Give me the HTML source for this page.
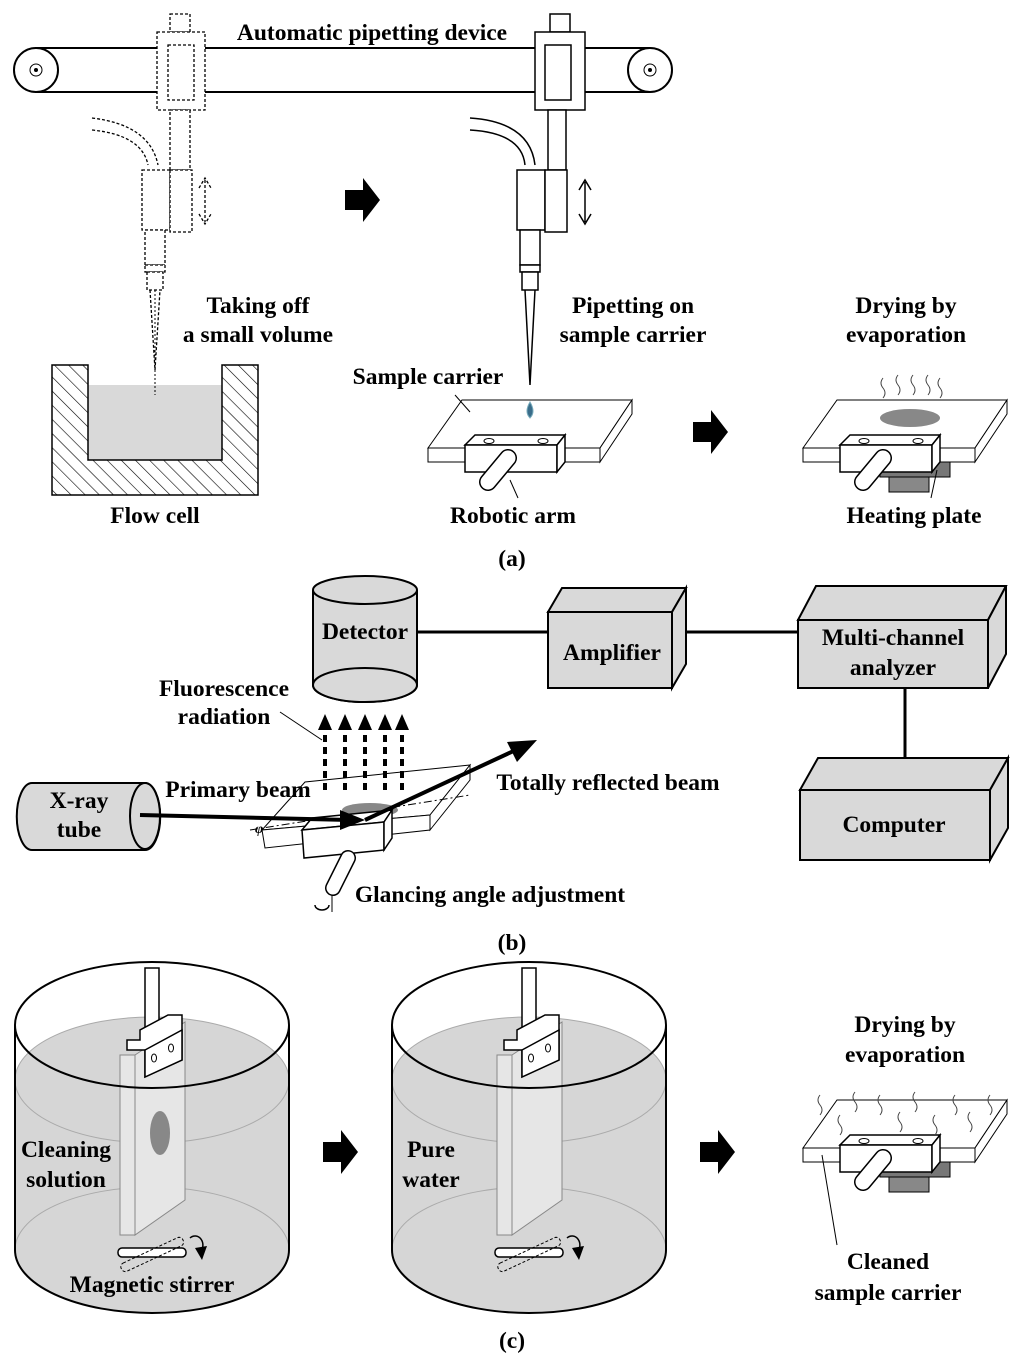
<!DOCTYPE html>
<html><head><meta charset="utf-8"><style>
html,body{margin:0;padding:0;background:#fff}
svg{display:block}
text{font-family:"Liberation Serif",serif;font-weight:bold;font-size:23.5px;fill:#000}
</style></head><body>
<svg width="1024" height="1365" viewBox="0 0 1024 1365" xmlns="http://www.w3.org/2000/svg">
<defs>
<pattern id="hatch" width="10" height="10" patternUnits="userSpaceOnUse" patternTransform="rotate(-45)">
<line x1="0" y1="0" x2="0" y2="10" stroke="#000" stroke-width="1.2"/></pattern>
<g id="carrier">
<polygon points="428,448 462,400 632,400 600,448" fill="#fff" stroke="#000" stroke-width="1"/>
<polygon points="428,448 600,448 600,462 428,462" fill="#fff" stroke="#000" stroke-width="1"/>
<polygon points="600,448 632,400 632,414 600,462" fill="#fff" stroke="#000" stroke-width="1"/>
<polygon points="465,445 475,435 565,435 557,445" fill="#fff" stroke="#000" stroke-width="1.5"/>
<rect x="465" y="445" width="92" height="27" fill="#fff" stroke="#000" stroke-width="1.5"/>
<polygon points="557,445 565,435 565,462 557,472" fill="#fff" stroke="#000" stroke-width="1.5"/>
<ellipse cx="489" cy="441" rx="5" ry="2.5" fill="#fff" stroke="#000"/>
<ellipse cx="543" cy="441" rx="5" ry="2.5" fill="#fff" stroke="#000"/>
<line x1="488" y1="482" x2="508" y2="458" stroke="#000" stroke-width="18" stroke-linecap="round"/>
<line x1="488" y1="482" x2="508" y2="458" stroke="#fff" stroke-width="15" stroke-linecap="round"/>
</g>
<g id="blkarrow"><polygon points="0,12 18,12 18,0 35,22 18,44 18,32 0,32" fill="#000"/></g>
</defs>

<line x1="35" y1="48" x2="650" y2="48" stroke="#000" stroke-width="2"/>
<line x1="35" y1="92" x2="650" y2="92" stroke="#000" stroke-width="2"/>
<circle cx="36" cy="70" r="22" fill="#fff" stroke="#000" stroke-width="2"/>
<circle cx="36" cy="70" r="6" fill="none" stroke="#000"/><circle cx="36" cy="70" r="2"/>
<circle cx="650" cy="70" r="22" fill="#fff" stroke="#000" stroke-width="2"/>
<circle cx="650" cy="70" r="6" fill="none" stroke="#000"/><circle cx="650" cy="70" r="2"/>
<rect x="232" y="18" width="280" height="26" fill="#fff"/>
<text x="372" y="40" text-anchor="middle">Automatic pipetting device</text>

<g fill="#fff" stroke="#000" stroke-dasharray="3,2" stroke-width="1.3">
<rect x="170" y="14" width="20" height="18"/>
<rect x="157" y="32" width="48" height="78"/>
<rect x="168" y="45" width="26" height="55"/>
<rect x="170" y="110" width="20" height="60"/>
<path d="M92,118 Q150,125 158,165" fill="none"/>
<path d="M92,130 Q142,135 148,165" fill="none"/>
<rect x="142" y="170" width="28" height="60"/>
<rect x="170" y="170" width="22" height="62"/>
<rect x="145" y="230" width="20" height="35"/>
<rect x="145" y="265" width="20" height="7"/>
<rect x="147" y="272" width="16" height="18"/>
<path d="M150,290 L155,370 L160,290" fill="none"/>
<path d="M205,180 L205,222 M199,188 L205,178 L211,188 M199,214 L205,224 L211,214" fill="none"/>
</g>

<g fill="#fff" stroke="#000" stroke-width="1.5">
<rect x="550" y="14" width="20" height="18"/>
<rect x="535" y="32" width="50" height="78"/>
<rect x="545" y="45" width="26" height="55"/>
<rect x="548" y="110" width="18" height="60"/>
<path d="M470,118 Q530,122 535,165" fill="none"/>
<path d="M470,130 Q522,133 525,165" fill="none"/>
<rect x="517" y="170" width="28" height="60"/>
<rect x="545" y="170" width="22" height="62"/>
<rect x="520" y="230" width="20" height="35"/>
<rect x="520" y="265" width="20" height="7"/>
<rect x="522" y="272" width="16" height="18"/>
<path d="M525,290 L530,385 L535,290" fill="none"/>
<path d="M585,182 L585,222 M579,190 L585,180 L591,190 M579,214 L585,224 L591,214" fill="none"/>
</g>
<use href="#blkarrow" x="345" y="178"/>

<rect x="88" y="385" width="134" height="75" fill="#d9d9d9"/>
<path d="M52,365 L88,365 L88,460 L222,460 L222,365 L258,365 L258,495 L52,495 Z" fill="url(#hatch)" stroke="#000" stroke-width="1.5"/>
<line x1="155" y1="290" x2="155" y2="395" stroke="#000" stroke-dasharray="2,2"/>
<text x="258" y="313" text-anchor="middle">Taking off</text>
<text x="258" y="342" text-anchor="middle">a small volume</text>
<text x="155" y="523" text-anchor="middle">Flow cell</text>

<use href="#carrier"/>
<path d="M530,402 Q524,412 530,418 Q536,412 530,402 Z" fill="#3a6d8a" stroke="#7ab"/>
<line x1="455" y1="395" x2="470" y2="412" stroke="#000"/>
<line x1="510" y1="480" x2="518" y2="498" stroke="#000"/>
<text x="633" y="313" text-anchor="middle">Pipetting on</text>
<text x="633" y="342" text-anchor="middle">sample carrier</text>
<text x="428" y="384" text-anchor="middle">Sample carrier</text>
<text x="513" y="523" text-anchor="middle">Robotic arm</text>
<use href="#blkarrow" x="693" y="410"/>

<g transform="translate(375,0)">
<rect x="505" y="462" width="70" height="15" fill="#777" stroke="#000"/>
<rect x="514" y="477" width="40" height="15" fill="#888" stroke="#000"/>
<use href="#carrier"/>
<ellipse cx="535" cy="418" rx="30" ry="9" fill="#888"/>
<path d="M508,378 q-4,5 0,10 q4,5 0,10 M523,375 q-4,5 0,10 q4,5 0,10 M538,375 q-4,5 0,10 q4,5 0,10 M553,375 q-4,5 0,10 q4,5 0,10 M565,378 q-4,5 0,10 q4,5 0,10" fill="none" stroke="#444"/>
<line x1="562" y1="470" x2="556" y2="498" stroke="#000"/>
</g>
<text x="906" y="313" text-anchor="middle">Drying by</text>
<text x="906" y="342" text-anchor="middle">evaporation</text>
<text x="914" y="523" text-anchor="middle">Heating plate</text>
<text x="512" y="566" text-anchor="middle">(a)</text>

<path d="M313,590 L313,685 A52,17 0 0 0 417,685 L417,590" fill="#d9d9d9" stroke="#000" stroke-width="2"/>
<ellipse cx="365" cy="590" rx="52" ry="14" fill="#d9d9d9" stroke="#000" stroke-width="2"/>
<ellipse cx="365" cy="685" rx="52" ry="17" fill="#d9d9d9" stroke="#000" stroke-width="2"/>
<text x="365" y="639" text-anchor="middle">Detector</text>
<line x1="417" y1="632" x2="548" y2="632" stroke="#000" stroke-width="3"/>
<line x1="686" y1="632" x2="800" y2="632" stroke="#000" stroke-width="3"/>
<line x1="905" y1="688" x2="905" y2="775" stroke="#000" stroke-width="3"/>
<g fill="#d9d9d9" stroke="#000" stroke-width="2">
<polygon points="548,612 562,588 686,588 672,612"/><polygon points="672,612 686,588 686,664 672,688"/><rect x="548" y="612" width="124" height="76"/>
<polygon points="798,620 816,586 1006,586 988,620"/><polygon points="988,620 1006,586 1006,654 988,688"/><rect x="798" y="620" width="190" height="68"/>
<polygon points="800,790 818,758 1008,758 990,790"/><polygon points="990,790 1008,758 1008,828 990,860"/><rect x="800" y="790" width="190" height="70"/>
</g>
<text x="612" y="660" text-anchor="middle">Amplifier</text>
<text x="893" y="645" text-anchor="middle">Multi-channel</text>
<text x="893" y="675" text-anchor="middle">analyzer</text>
<text x="894" y="832" text-anchor="middle">Computer</text>

<path d="M32,783 L145,783 A15,33 0 0 1 145,850 L32,850 A15,33 0 0 1 32,783 Z" fill="#d9d9d9" stroke="#000" stroke-width="2"/>
<ellipse cx="145" cy="816" rx="15" ry="33" fill="#d9d9d9" stroke="#000" stroke-width="2"/>
<text x="79" y="808" text-anchor="middle">X-ray</text>
<text x="79" y="837" text-anchor="middle">tube</text>

<polygon points="262,830 305,782 470,765 430,815" fill="#fff" stroke="#000"/>
<polygon points="262,830 430,815 430,830 265,848" fill="#fff" stroke="#000"/>
<polygon points="430,815 470,765 470,780 430,830" fill="#fff" stroke="#000"/>
<line x1="250" y1="830" x2="470" y2="795" stroke="#000" stroke-dasharray="8,3,2,3"/>
<ellipse cx="370" cy="810" rx="28" ry="7" fill="#888"/>
<polygon points="302,830 312,818 392,810 384,822" fill="#fff" stroke="#000" stroke-width="1.5"/>
<polygon points="302,830 384,822 384,850 304,858" fill="#fff" stroke="#000" stroke-width="1.5"/>
<polygon points="384,822 392,810 392,838 384,850" fill="#fff" stroke="#000" stroke-width="1.5"/>
<line x1="333" y1="888" x2="348" y2="858" stroke="#000" stroke-width="16" stroke-linecap="round"/>
<line x1="333" y1="888" x2="348" y2="858" stroke="#fff" stroke-width="13" stroke-linecap="round"/>
<path d="M315,905 a7,5 0 1 0 14,0" fill="none" stroke="#000" stroke-width="1.5"/>
<line x1="332" y1="895" x2="332" y2="912" stroke="#000"/>
<text x="255" y="833" style="font-size:14px;font-style:italic">φ</text>

<line x1="140" y1="815" x2="350" y2="820" stroke="#000" stroke-width="4"/>
<polygon points="365,820 340,810 340,830"/>
<line x1="365" y1="820" x2="520" y2="748" stroke="#000" stroke-width="4"/>
<polygon points="537,740 507,742 517,762"/>
<g stroke="#000" stroke-width="4" stroke-dasharray="7,5">
<line x1="325" y1="790" x2="325" y2="728"/><line x1="345" y1="790" x2="345" y2="728"/><line x1="365" y1="790" x2="365" y2="728"/><line x1="385" y1="790" x2="385" y2="728"/><line x1="402" y1="790" x2="402" y2="728"/>
</g>
<g><polygon points="318,730 325,714 332,730"/><polygon points="338,730 345,714 352,730"/><polygon points="358,730 365,714 372,730"/><polygon points="378,730 385,714 392,730"/><polygon points="395,730 402,714 409,730"/></g>
<line x1="280" y1="712" x2="322" y2="740" stroke="#000"/>
<text x="224" y="696" text-anchor="middle">Fluorescence</text>
<text x="224" y="724" text-anchor="middle">radiation</text>
<text x="238" y="797" text-anchor="middle">Primary beam</text>
<text x="608" y="790" text-anchor="middle">Totally reflected beam</text>
<text x="490" y="902" text-anchor="middle">Glancing angle adjustment</text>
<text x="512" y="950" text-anchor="middle">(b)</text>

<g id="beaker">
<path d="M15,1080 L15,1250 A137,63 0 0 0 289,1250 L289,1080 A137,63 0 0 0 15,1080 Z" fill="#d6d6d6"/>
<ellipse cx="152" cy="1080" rx="137" ry="63" fill="none" stroke="#aaa"/>
<path d="M15,1250 A137,63 0 0 1 289,1250" fill="none" stroke="#aaa"/>
<path d="M135,1055 L185,1022 L185,1200 L135,1235 Z" fill="#e6e6e6" stroke="#888"/>
<rect x="120" y="1055" width="15" height="180" fill="#e6e6e6" stroke="#888"/>
<ellipse cx="152" cy="1025" rx="137" ry="63" fill="none" stroke="#000" stroke-width="2"/>
<path d="M15,1025 L15,1250 A137,63 0 0 0 289,1250 L289,1025" fill="none" stroke="#000" stroke-width="2"/>
<rect x="145" y="968" width="14" height="60" fill="#fff" stroke="#000" stroke-width="1.5"/>
<polygon points="127,1040 140,1040 140,1030 168,1015 182,1015 182,1060 145,1077 145,1050 127,1050" fill="#fff" stroke="#000" stroke-width="1.5"/>
<polygon points="145,1050 182,1030 182,1060 145,1077" fill="#fff" stroke="#000" stroke-width="1.5"/>
<ellipse cx="154" cy="1058" rx="2.5" ry="4" fill="#fff" stroke="#000"/><ellipse cx="171" cy="1048" rx="2.5" ry="4" fill="#fff" stroke="#000"/>
<rect x="118" y="1248" width="68" height="9" rx="4" fill="#fff" stroke="#000" stroke-width="1.5"/>
<rect x="118" y="1250" width="68" height="9" rx="4" transform="rotate(-25 152 1254)" fill="none" stroke="#000" stroke-dasharray="3,2"/>
<path d="M190,1238 a7,8 0 0 1 10,14" fill="none" stroke="#000" stroke-width="1.5"/><polygon points="195,1248 202,1260 207,1246"/>
</g>
<use href="#beaker" x="377"/>
<ellipse cx="160" cy="1133" rx="10" ry="22" fill="#888"/>
<text x="66" y="1157" text-anchor="middle">Cleaning</text>
<text x="66" y="1187" text-anchor="middle">solution</text>
<text x="152" y="1292" text-anchor="middle">Magnetic stirrer</text>
<text x="431" y="1157" text-anchor="middle">Pure</text>
<text x="431" y="1187" text-anchor="middle">water</text>
<use href="#blkarrow" x="323" y="1130"/>
<use href="#blkarrow" x="700" y="1130"/>

<g transform="translate(375,700)">
<rect x="505" y="462" width="70" height="15" fill="#777" stroke="#000"/>
<rect x="514" y="477" width="40" height="15" fill="#888" stroke="#000"/>
<use href="#carrier"/>
<path d="M445,395 q-4,5 0,10 q4,5 0,10 M480,392 q-4,5 0,10 q4,5 0,10 M505,395 q-4,5 0,10 q4,5 0,10 M540,392 q-4,5 0,10 q4,5 0,10 M580,395 q-4,5 0,10 q4,5 0,10 M615,395 q-4,5 0,10 q4,5 0,10 M465,415 q-4,5 0,10 q4,5 0,10 M525,412 q-4,5 0,10 q4,5 0,10 M560,415 q-4,5 0,10 q4,5 0,10 M595,412 q-4,5 0,10 q4,5 0,10" fill="none" stroke="#444"/>
<line x1="447" y1="455" x2="462" y2="545" stroke="#000"/>
</g>
<text x="905" y="1032" text-anchor="middle">Drying by</text>
<text x="905" y="1062" text-anchor="middle">evaporation</text>
<text x="888" y="1269" text-anchor="middle">Cleaned</text>
<text x="888" y="1300" text-anchor="middle">sample carrier</text>
<text x="512" y="1348" text-anchor="middle">(c)</text>
</svg>
</body></html>
